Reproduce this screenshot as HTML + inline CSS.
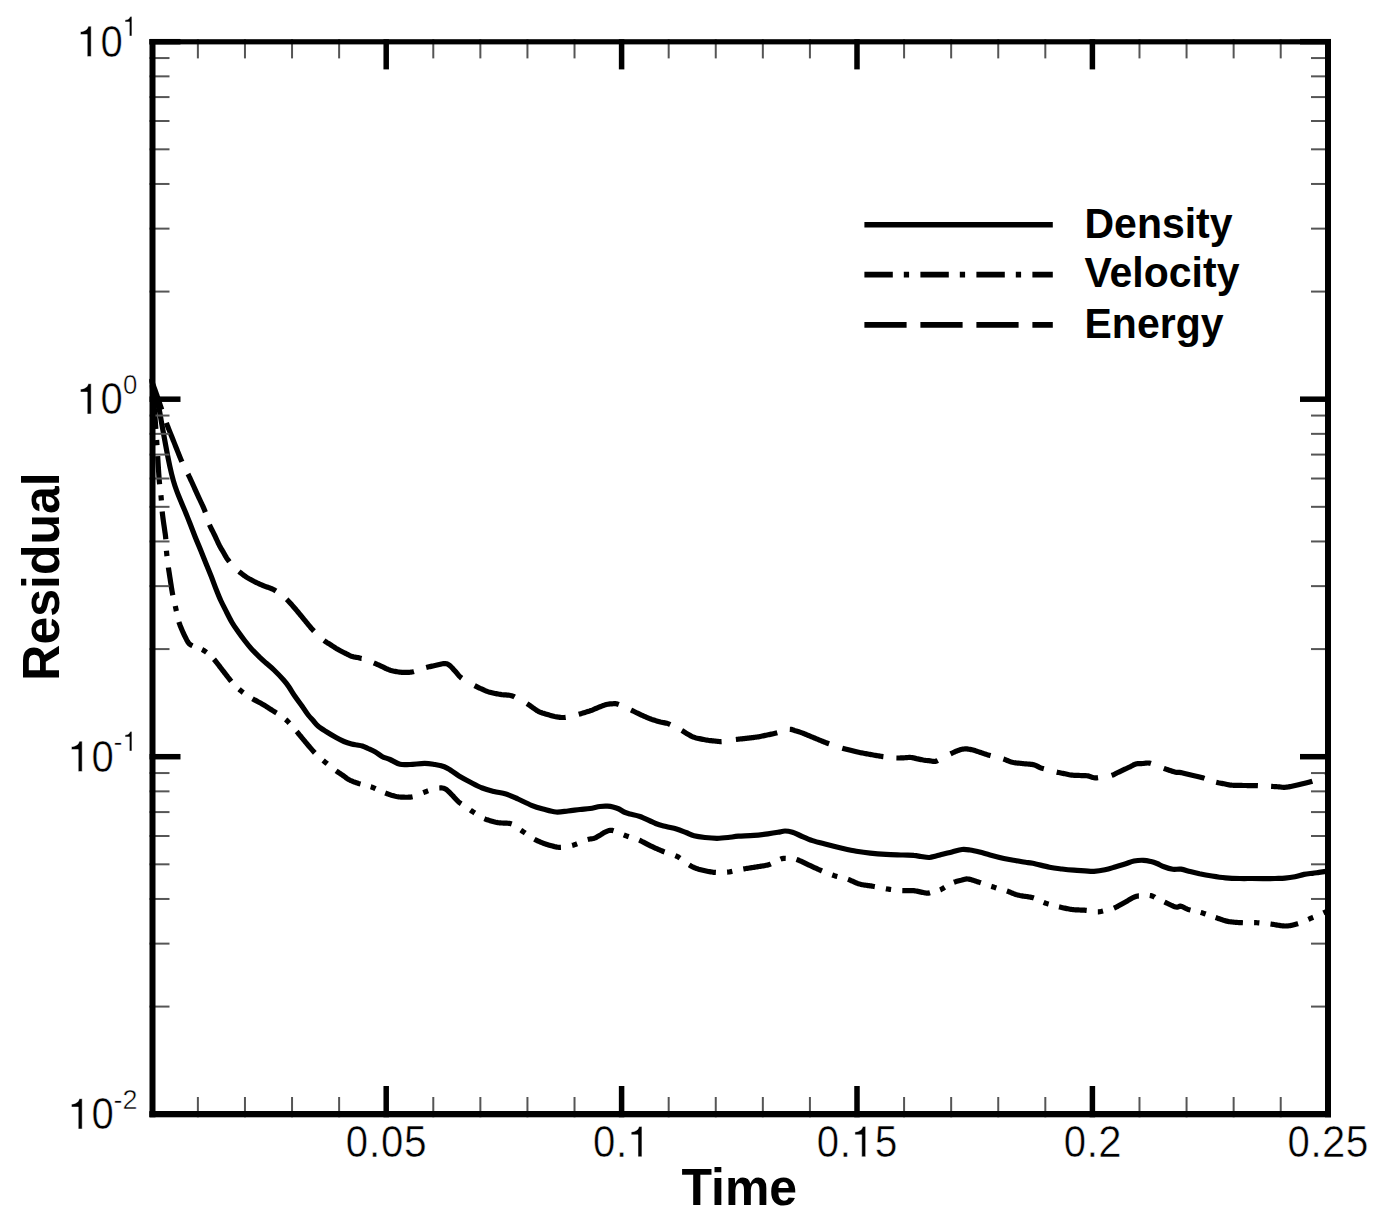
<!DOCTYPE html><html><head><meta charset="utf-8"><style>html,body{margin:0;padding:0;background:#fff;}svg{display:block;}text{font-family:"Liberation Sans",sans-serif;}</style></head><body>
<svg width="1377" height="1220" viewBox="0 0 1377 1220">
<rect x="0" y="0" width="1377" height="1220" fill="#fff"/>
<defs><clipPath id="c"><rect x="149.5" y="39.2" width="1181.5" height="1078.1"/></clipPath></defs>
<g clip-path="url(#c)" fill="none" stroke="#000" stroke-width="5.2" stroke-linejoin="round">
<path d="M150.8,378.5 C151.3,380.4 153.0,386.2 154.0,390.0 C155.0,393.8 156.1,397.5 157.0,401.0 C157.9,404.5 158.7,407.3 159.5,411.0 C160.3,414.7 160.7,418.0 161.6,423.0 C162.5,428.0 163.8,435.0 164.9,441.0 C166.0,447.0 167.2,453.5 168.3,459.0 C169.4,464.5 170.5,469.5 171.6,474.0 C172.7,478.5 173.8,482.4 175.0,486.0 C176.2,489.6 177.3,492.5 178.5,495.5 C179.7,498.5 180.8,501.0 182.0,504.0 C183.2,507.0 184.7,510.2 186.0,513.5 C187.3,516.8 188.5,519.7 190.0,523.5 C191.5,527.3 193.2,531.9 195.0,536.5 C196.8,541.1 199.1,546.2 201.0,551.0 C202.9,555.8 204.9,560.8 206.6,565.0 C208.3,569.2 209.5,572.0 211.1,576.0 C212.7,580.0 214.3,584.8 216.0,589.0 C217.7,593.2 219.2,597.2 221.0,601.0 C222.8,604.8 224.7,608.4 226.5,612.0 C228.3,615.6 230.1,619.2 232.0,622.5 C233.9,625.8 235.8,628.4 238.0,631.5 C240.2,634.6 242.7,638.0 245.0,641.0 C247.3,644.0 249.5,646.8 252.0,649.5 C254.5,652.2 257.5,655.1 259.8,657.4 C262.1,659.6 263.6,660.9 266.0,663.0 C268.4,665.1 271.1,667.2 274.0,670.0 C276.9,672.8 281.1,677.2 283.6,680.0 C286.1,682.8 287.1,684.2 289.0,687.0 C290.9,689.8 292.9,693.3 295.1,696.5 C297.3,699.7 299.8,702.9 302.0,706.0 C304.2,709.1 306.3,712.6 308.2,715.0 C310.1,717.4 311.5,718.7 313.1,720.5 C314.7,722.3 315.9,724.2 318.0,726.0 C320.1,727.8 323.0,729.6 326.0,731.5 C329.0,733.4 333.1,735.8 336.1,737.5 C339.1,739.2 341.4,740.4 344.0,741.5 C346.6,742.6 349.3,743.4 351.5,744.0 C353.7,744.6 355.2,744.7 357.0,745.0 C358.8,745.3 360.5,745.4 362.3,746.0 C364.1,746.6 365.8,747.5 368.0,748.5 C370.2,749.5 373.1,750.7 375.4,752.0 C377.7,753.3 379.6,755.2 382.0,756.5 C384.4,757.8 387.0,758.2 390.0,759.5 C393.0,760.8 396.7,763.5 400.0,764.3 C403.3,765.1 405.9,764.6 410.0,764.5 C414.1,764.4 420.4,763.4 424.6,763.4 C428.8,763.4 431.7,764.0 435.0,764.5 C438.3,765.0 441.6,765.7 444.3,766.7 C447.0,767.7 448.6,769.0 451.0,770.5 C453.4,772.0 455.8,774.1 459.0,776.0 C462.2,777.9 466.1,780.0 470.0,782.0 C473.9,784.0 478.3,786.4 482.3,788.0 C486.3,789.6 490.1,790.5 494.0,791.5 C497.9,792.5 502.0,792.8 506.0,794.0 C510.0,795.2 513.8,797.1 518.0,799.0 C522.2,800.9 527.3,803.6 531.5,805.3 C535.7,807.0 538.9,807.9 543.0,809.0 C547.1,810.1 551.8,811.7 556.0,812.0 C560.2,812.3 564.0,811.4 568.0,811.0 C572.0,810.6 576.3,809.9 580.0,809.5 C583.7,809.1 586.7,809.0 590.0,808.5 C593.3,808.0 597.1,806.9 600.0,806.5 C602.9,806.1 605.3,806.1 607.5,806.2 C609.7,806.3 611.1,806.5 613.0,807.0 C614.9,807.5 617.2,808.2 619.0,809.0 C620.8,809.8 622.2,811.2 624.0,812.0 C625.8,812.8 627.3,813.2 630.0,814.0 C632.7,814.8 635.7,814.9 640.0,816.5 C644.3,818.1 651.3,821.8 655.6,823.5 C659.9,825.2 662.5,825.6 666.0,826.5 C669.5,827.4 673.2,828.0 676.5,829.0 C679.8,830.0 683.1,831.4 686.0,832.5 C688.9,833.6 690.8,835.0 694.0,835.8 C697.2,836.6 701.2,837.1 705.0,837.5 C708.8,837.9 713.2,838.3 717.0,838.3 C720.8,838.3 724.4,837.9 728.0,837.5 C731.6,837.1 734.1,836.6 738.4,836.2 C742.7,835.9 749.0,835.8 753.9,835.4 C758.8,835.0 763.9,834.3 767.9,833.8 C771.9,833.3 775.1,832.8 778.0,832.3 C780.9,831.8 782.6,831.0 785.0,831.0 C787.4,831.0 790.0,831.5 792.5,832.2 C795.0,833.0 796.7,834.1 800.0,835.5 C803.3,836.9 808.0,839.1 812.5,840.6 C817.0,842.1 822.1,843.2 827.0,844.5 C831.9,845.8 837.1,847.1 842.0,848.2 C846.9,849.3 851.7,850.4 856.4,851.2 C861.1,852.0 865.3,852.6 870.2,853.1 C875.1,853.6 880.5,854.0 886.0,854.3 C891.5,854.6 898.4,854.8 903.0,855.0 C907.6,855.2 910.8,855.1 913.8,855.4 C916.8,855.6 918.4,856.1 921.0,856.5 C923.6,856.9 926.8,857.6 929.3,857.5 C931.8,857.4 933.8,856.5 936.0,856.0 C938.2,855.5 939.8,855.0 942.5,854.3 C945.2,853.6 948.8,852.8 952.0,852.0 C955.2,851.2 959.0,849.8 962.0,849.5 C965.0,849.2 967.1,849.6 970.0,850.0 C972.9,850.4 976.2,851.2 979.5,852.0 C982.8,852.8 985.9,853.9 990.0,855.0 C994.1,856.1 999.5,857.5 1003.9,858.5 C1008.3,859.5 1012.8,860.1 1016.4,860.7 C1020.0,861.3 1022.9,861.9 1025.6,862.3 C1028.3,862.7 1028.8,862.5 1032.8,863.3 C1036.8,864.1 1044.6,866.2 1049.5,867.2 C1054.4,868.2 1057.9,868.5 1062.0,869.0 C1066.1,869.5 1070.2,869.9 1074.0,870.2 C1077.8,870.5 1081.7,870.6 1085.0,870.8 C1088.3,871.0 1090.7,871.5 1094.0,871.3 C1097.3,871.1 1101.5,870.5 1105.0,869.8 C1108.5,869.1 1111.7,868.0 1115.0,867.0 C1118.3,866.0 1121.8,865.0 1125.0,864.0 C1128.2,863.0 1130.9,861.6 1134.0,861.0 C1137.1,860.4 1140.7,860.2 1143.5,860.3 C1146.3,860.4 1148.8,861.0 1151.0,861.5 C1153.2,862.0 1154.8,862.6 1157.0,863.5 C1159.2,864.4 1161.4,865.8 1164.0,866.8 C1166.6,867.8 1170.0,868.9 1172.8,869.3 C1175.6,869.7 1178.1,868.8 1181.0,869.2 C1183.9,869.6 1186.9,870.7 1190.0,871.5 C1193.1,872.3 1195.8,873.0 1199.5,873.8 C1203.2,874.5 1207.7,875.3 1212.0,876.0 C1216.3,876.7 1220.7,877.4 1225.4,877.8 C1230.1,878.2 1235.7,878.4 1240.0,878.5 C1244.3,878.6 1247.7,878.5 1251.5,878.5 C1255.3,878.5 1259.1,878.6 1263.0,878.6 C1266.9,878.6 1271.3,878.6 1275.0,878.5 C1278.7,878.4 1281.7,878.5 1285.0,878.2 C1288.3,877.9 1291.8,877.4 1295.0,876.8 C1298.2,876.2 1301.1,875.0 1304.0,874.4 C1306.9,873.8 1310.0,873.6 1312.5,873.3 C1315.0,873.0 1316.8,872.7 1319.0,872.4 C1321.2,872.1 1323.8,871.7 1326.0,871.4 C1328.2,871.1 1331.0,870.7 1332.0,870.6"/>
<path d="M150.80,378.50 L151.01,379.07 L151.27,379.79 L151.58,380.64 L151.93,381.59 L152.31,382.63 L152.71,383.72 L153.12,384.84 L153.53,385.96 L153.94,387.07 L154.32,388.12 L154.68,389.11 L155.00,390.00 L155.39,391.08 L155.76,392.11 L156.11,393.09 L156.44,394.04 L156.77,394.96 L157.08,395.85 L157.39,396.74 L157.70,397.62 L158.00,398.50 L158.38,399.62 L158.74,400.69 L159.08,401.73 L159.42,402.77 L159.76,403.81 L160.12,404.88 L160.50,406.00 L160.81,406.90 L161.14,407.83 L161.47,408.77 L161.75,409.56 M166.30,422.80 L166.57,423.52 L166.87,424.28 L167.18,425.09 L167.51,425.94 L167.86,426.82 L168.22,427.74 L168.60,428.69 L168.98,429.65 L169.38,430.64 L169.78,431.65 L170.18,432.66 L170.59,433.69 L171.00,434.71 L171.41,435.74 L171.82,436.76 L172.23,437.77 L172.63,438.76 L173.02,439.74 L173.40,440.70 L173.78,441.66 L174.17,442.64 L174.57,443.65 L174.97,444.66 L175.38,445.70 L175.79,446.73 L176.20,447.77 L176.61,448.81 L177.02,449.83 L177.42,450.85 L177.82,451.85 L178.21,452.83 L178.59,453.78 L178.96,454.70 L179.32,455.59 L179.66,456.44 L179.99,457.24 L180.31,458.00 L180.60,458.70 L181.22,460.15 L181.75,461.33 L181.95,461.77 M188.00,474.00 L188.44,474.91 L188.87,475.82 L189.31,476.75 L189.76,477.69 L190.20,478.64 L190.65,479.59 L191.10,480.56 L191.55,481.52 L192.00,482.50 L192.45,483.49 L192.90,484.49 L193.36,485.50 L193.82,486.51 L194.27,487.54 L194.73,488.56 L195.19,489.58 L195.64,490.59 L196.10,491.60 L196.56,492.60 L197.01,493.59 L197.47,494.59 L197.93,495.57 L198.38,496.56 L198.84,497.55 L199.30,498.53 L199.75,499.52 L200.20,500.50 L200.66,501.49 L201.12,502.48 L201.59,503.48 L202.05,504.48 L202.51,505.47 L202.96,506.45 L203.39,507.42 L203.81,508.37 L204.20,509.30 L204.61,510.31 L204.99,511.30 L205.34,512.24 M209.50,524.80 L209.86,525.64 L210.26,526.51 L210.69,527.41 L211.14,528.33 L211.61,529.27 L212.10,530.23 L212.59,531.19 L213.08,532.15 L213.57,533.11 L214.04,534.06 L214.50,535.00 L214.95,535.94 L215.39,536.89 L215.84,537.86 L216.29,538.83 L216.73,539.80 L217.17,540.76 L217.61,541.70 L218.04,542.63 L218.47,543.52 L218.89,544.38 L219.30,545.20 L219.86,546.26 L220.40,547.24 L220.93,548.18 L221.45,549.07 L221.97,549.93 L222.48,550.79 L222.99,551.64 L223.50,552.50 L224.07,553.49 L224.61,554.46 L225.15,555.41 L225.69,556.35 L226.25,557.30 L226.85,558.24 L227.50,559.20 L228.11,560.05 L228.76,560.92 L229.37,561.72 M239.00,571.50 L239.82,572.18 L240.66,572.86 L241.52,573.54 L242.39,574.21 L243.27,574.88 L244.17,575.54 L245.08,576.18 L246.00,576.80 L246.82,577.34 L247.65,577.86 L248.49,578.37 L249.33,578.87 L250.19,579.36 L251.07,579.85 L251.96,580.34 L252.87,580.82 L253.80,581.30 L254.66,581.73 L255.53,582.16 L256.42,582.59 L257.32,583.01 L258.24,583.43 L259.17,583.85 L260.11,584.26 L261.06,584.68 L262.03,585.09 L263.00,585.50 L263.91,585.87 L264.87,586.23 L265.85,586.59 L266.85,586.95 L267.86,587.30 L268.86,587.66 L269.85,588.02 L270.81,588.38 L271.72,588.75 L272.59,589.12 L273.40,589.50 L274.54,590.11 L275.56,590.73 L275.94,590.98 M286.60,599.30 L287.32,599.99 L288.03,600.71 L288.74,601.44 L289.44,602.20 L290.15,602.98 L290.85,603.77 L291.56,604.57 L292.28,605.38 L293.00,606.20 L293.66,606.95 L294.33,607.72 L295.00,608.50 L295.68,609.30 L296.36,610.10 L297.03,610.91 L297.71,611.71 L298.38,612.52 L299.04,613.31 L299.70,614.10 L300.42,614.97 L301.13,615.83 L301.84,616.70 L302.54,617.56 L303.24,618.42 L303.94,619.28 L304.63,620.13 L305.32,620.97 L306.00,621.80 L306.68,622.63 L307.35,623.46 L308.02,624.28 L308.69,625.10 L309.35,625.91 L310.01,626.71 L310.67,627.49 L311.33,628.26 L312.00,629.00 L312.75,629.81 L313.50,630.60 L314.00,631.11 M324.00,640.50 L324.90,641.16 L325.80,641.78 L326.71,642.37 L327.64,642.94 L328.58,643.51 L329.53,644.09 L330.50,644.70 L331.35,645.25 L332.19,645.81 L333.03,646.37 L333.89,646.94 L334.78,647.52 L335.70,648.11 L336.67,648.70 L337.70,649.30 L338.51,649.76 L339.39,650.24 L340.32,650.73 L341.27,651.24 L342.25,651.75 L343.22,652.25 L344.18,652.74 L345.10,653.20 L345.98,653.64 L346.78,654.04 L347.50,654.40 L348.78,655.04 L349.75,655.53 L350.59,655.92 L351.45,656.26 L352.50,656.60 L353.40,656.83 L354.35,657.01 L355.36,657.18 L356.40,657.33 L357.44,657.50 L358.48,657.68 L359.50,657.90 L360.50,658.15 L361.49,658.42 L361.50,658.42 M373.80,662.90 L374.74,663.30 L375.67,663.70 L376.61,664.12 L377.56,664.54 L378.52,664.97 L379.50,665.40 L380.49,665.85 L381.50,666.30 L382.41,666.72 L383.31,667.17 L384.23,667.63 L385.15,668.10 L386.09,668.56 L387.06,669.01 L388.07,669.44 L389.11,669.84 L390.20,670.20 L391.14,670.47 L392.12,670.72 L393.14,670.97 L394.19,671.20 L395.26,671.41 L396.33,671.61 L397.41,671.79 L398.49,671.95 L399.55,672.09 L400.59,672.21 L401.60,672.30 L402.70,672.38 L403.80,672.43 L404.90,672.45 L406.00,672.45 L407.08,672.42 L408.13,672.38 L409.16,672.31 L410.15,672.23 L411.10,672.12 L412.00,672.00 L413.18,671.78 L413.95,671.56 M426.20,667.50 L427.10,667.27 L428.04,667.04 L429.00,666.81 L429.97,666.59 L430.97,666.37 L431.97,666.15 L432.98,665.93 L433.99,665.72 L435.00,665.50 L436.04,665.27 L437.12,665.01 L438.23,664.73 L439.34,664.46 L440.44,664.21 L441.51,663.98 L442.52,663.79 L443.46,663.66 L444.30,663.60 L445.55,663.61 L446.53,663.74 L447.39,664.02 L448.23,664.46 L449.20,665.10 L449.88,665.62 L450.59,666.25 L451.31,666.97 L452.05,667.74 L452.79,668.56 L453.54,669.39 L454.27,670.21 L455.00,671.00 L455.71,671.79 L456.41,672.62 L457.10,673.46 L457.79,674.31 L458.49,675.14 L459.20,675.94 L459.94,676.70 L460.70,677.40 L461.61,678.12 L461.77,678.23 M474.60,685.60 L475.65,686.15 L476.64,686.65 L477.59,687.12 L478.54,687.58 L479.50,688.04 L480.50,688.50 L481.53,688.98 L482.57,689.47 L483.62,689.96 L484.70,690.44 L485.79,690.89 L486.90,691.30 L487.87,691.62 L488.86,691.92 L489.87,692.20 L490.89,692.47 L491.91,692.72 L492.95,692.96 L494.00,693.20 L495.04,693.43 L496.07,693.65 L497.10,693.85 L498.16,694.05 L499.25,694.24 L500.39,694.42 L501.60,694.60 L502.61,694.72 L503.69,694.81 L504.82,694.89 L505.97,694.96 L507.14,695.04 L508.29,695.14 L509.42,695.28 L510.49,695.46 L511.50,695.70 L512.55,696.04 L513.53,696.45 L514.47,696.91 L514.61,696.99 M527.00,703.60 L527.96,704.20 L528.85,704.80 L529.70,705.40 L530.51,706.01 L531.32,706.61 L532.14,707.21 L533.00,707.80 L533.87,708.39 L534.72,709.00 L535.58,709.60 L536.45,710.19 L537.35,710.76 L538.30,711.30 L539.30,711.80 L540.23,712.20 L541.22,712.58 L542.24,712.93 L543.28,713.26 L544.34,713.58 L545.41,713.89 L546.46,714.20 L547.50,714.50 L548.52,714.81 L549.55,715.12 L550.58,715.42 L551.60,715.72 L552.62,716.00 L553.65,716.26 L554.67,716.50 L555.70,716.70 L556.73,716.88 L557.78,717.05 L558.82,717.19 L559.87,717.32 L560.91,717.42 L561.93,717.48 L562.93,717.51 L563.90,717.50 L564.97,717.43 L565.70,717.34 M578.70,714.30 L579.83,713.99 L580.89,713.68 L581.91,713.37 L582.91,713.06 L583.94,712.73 L585.00,712.40 L585.94,712.11 L586.89,711.82 L587.86,711.52 L588.83,711.21 L589.81,710.90 L590.80,710.56 L591.80,710.20 L592.81,709.81 L593.82,709.39 L594.85,708.95 L595.88,708.51 L596.92,708.06 L597.96,707.62 L599.00,707.20 L600.06,706.78 L601.15,706.35 L602.25,705.92 L603.34,705.50 L604.41,705.12 L605.44,704.78 L606.40,704.50 L607.64,704.22 L608.80,704.04 L609.89,703.93 L610.95,703.86 L612.00,703.80 L613.01,703.72 L613.95,703.65 L614.88,703.62 L615.88,703.69 L617.00,703.90 L617.90,704.16 L618.81,704.50 M631.00,710.00 L631.85,710.40 L632.73,710.83 L633.64,711.28 L634.59,711.75 L635.55,712.23 L636.53,712.71 L637.52,713.19 L638.52,713.67 L639.51,714.14 L640.50,714.60 L641.41,715.01 L642.33,715.44 L643.27,715.86 L644.22,716.29 L645.17,716.71 L646.12,717.13 L647.06,717.53 L648.00,717.93 L648.92,718.31 L649.82,718.66 L650.70,719.00 L651.74,719.38 L652.74,719.72 L653.72,720.04 L654.69,720.34 L655.64,720.63 L656.59,720.90 L657.54,721.17 L658.51,721.43 L659.50,721.70 L660.52,721.96 L661.57,722.20 L662.64,722.43 L663.72,722.65 L664.79,722.87 L665.83,723.10 L666.84,723.35 L667.80,723.61 L668.70,723.90 L669.75,724.31 L670.23,724.54 M681.80,730.50 L682.81,731.08 L683.78,731.67 L684.71,732.27 L685.63,732.86 L686.56,733.44 L687.50,734.00 L688.44,734.54 L689.37,735.08 L690.31,735.60 L691.26,736.10 L692.25,736.57 L693.30,737.00 L694.25,737.33 L695.25,737.64 L696.27,737.92 L697.32,738.18 L698.38,738.43 L699.44,738.66 L700.50,738.90 L701.56,739.13 L702.65,739.36 L703.75,739.57 L704.84,739.78 L705.92,739.97 L706.98,740.14 L708.00,740.30 L709.14,740.46 L710.24,740.59 L711.31,740.70 L712.36,740.80 L713.42,740.90 L714.50,741.00 L715.58,741.13 L716.66,741.27 L717.74,741.41 L718.84,741.53 L719.95,741.60 L721.10,741.60 L721.61,741.57 M735.90,739.50 L736.83,739.39 L737.81,739.27 L738.84,739.16 L739.90,739.04 L740.99,738.92 L742.10,738.80 L743.21,738.67 L744.32,738.55 L745.42,738.42 L746.50,738.30 L747.57,738.18 L748.66,738.05 L749.76,737.93 L750.85,737.81 L751.95,737.69 L753.04,737.56 L754.11,737.43 L755.17,737.29 L756.20,737.15 L757.20,737.00 L758.27,736.82 L759.31,736.64 L760.33,736.44 L761.32,736.24 L762.29,736.03 L763.26,735.83 L764.23,735.62 L765.21,735.41 L766.20,735.20 L767.21,734.99 L768.23,734.79 L769.26,734.58 L770.29,734.37 L771.32,734.16 L772.33,733.94 L773.31,733.73 L774.27,733.52 L775.20,733.30 L776.33,733.02 L777.31,732.76 M789.80,729.30 L791.04,729.37 L792.19,729.63 L793.29,730.01 L794.38,730.42 L795.50,730.80 L796.38,731.04 L797.15,731.24 L797.93,731.46 L798.81,731.72 L799.90,732.09 L801.30,732.60 L802.02,732.88 L802.80,733.18 L803.64,733.52 L804.54,733.88 L805.48,734.27 L806.45,734.67 L807.45,735.08 L808.47,735.50 L809.50,735.93 L810.53,736.36 L811.55,736.78 L812.56,737.20 L813.55,737.61 L814.50,738.00 L815.45,738.39 L816.42,738.79 L817.40,739.19 L818.39,739.60 L819.38,740.02 L820.37,740.43 L821.36,740.83 L822.32,741.23 L823.27,741.62 L824.19,741.99 L825.08,742.35 L825.93,742.69 L826.74,743.01 L827.50,743.30 L828.86,743.80 L829.09,743.88 M842.30,748.20 L843.28,748.48 L844.29,748.75 L845.31,749.01 L846.34,749.27 L847.39,749.53 L848.43,749.79 L849.47,750.04 L850.50,750.30 L851.50,750.55 L852.48,750.80 L853.44,751.05 L854.41,751.30 L855.40,751.55 L856.43,751.80 L857.53,752.05 L858.70,752.30 L859.61,752.49 L860.56,752.68 L861.55,752.87 L862.57,753.06 L863.61,753.25 L864.67,753.45 L865.74,753.64 L866.81,753.83 L867.89,754.02 L868.95,754.21 L870.00,754.40 L871.06,754.59 L872.15,754.79 L873.26,754.99 L874.37,755.19 L875.49,755.38 L876.59,755.58 L877.68,755.77 L878.73,755.94 L879.74,756.11 L880.70,756.26 L881.60,756.40 L882.88,756.58 L883.41,756.64 M896.40,758.00 L897.46,758.02 L898.52,758.02 L899.58,757.99 L900.64,757.95 L901.69,757.89 L902.75,757.84 L903.80,757.80 L904.85,757.75 L905.91,757.67 L906.97,757.59 L908.03,757.51 L909.07,757.46 L910.09,757.45 L911.10,757.50 L912.24,757.64 L913.35,757.84 L914.44,758.10 L915.53,758.38 L916.61,758.65 L917.70,758.90 L918.81,759.13 L919.93,759.37 L921.06,759.60 L922.17,759.82 L923.25,760.03 L924.30,760.20 L925.50,760.37 L926.64,760.50 L927.76,760.60 L928.87,760.70 L930.00,760.80 L931.11,760.97 L932.20,761.21 L933.30,761.41 L934.46,761.47 L935.70,761.30 L936.53,761.04 L937.41,760.67 L937.83,760.46 M950.50,753.90 L951.44,753.45 L952.39,752.99 L953.33,752.52 L954.28,752.07 L955.22,751.63 L956.16,751.22 L957.09,750.84 L958.00,750.50 L959.03,750.16 L960.04,749.84 L961.03,749.56 L962.03,749.32 L963.01,749.12 L964.00,748.98 L965.00,748.90 L966.01,748.89 L967.03,748.95 L968.05,749.06 L969.07,749.22 L970.07,749.40 L971.05,749.60 L972.00,749.80 L973.01,750.03 L973.93,750.28 L974.82,750.55 L975.75,750.86 L976.79,751.20 L978.00,751.60 L978.84,751.87 L979.77,752.18 L980.76,752.52 L981.79,752.87 L982.85,753.23 L983.92,753.59 L984.98,753.95 L986.00,754.29 L986.99,754.61 L987.90,754.90 L989.10,755.26 L990.23,755.59 L990.56,755.68 M1003.40,759.00 L1004.35,759.32 L1005.31,759.68 L1006.29,760.08 L1007.29,760.49 L1008.29,760.90 L1009.32,761.30 L1010.36,761.68 L1011.42,762.01 L1012.50,762.30 L1013.49,762.51 L1014.51,762.69 L1015.54,762.84 L1016.58,762.97 L1017.64,763.08 L1018.71,763.18 L1019.78,763.28 L1020.86,763.38 L1021.93,763.48 L1023.00,763.60 L1024.08,763.72 L1025.20,763.81 L1026.33,763.90 L1027.47,763.99 L1028.60,764.08 L1029.72,764.18 L1030.81,764.30 L1031.86,764.43 L1032.86,764.60 L1033.80,764.80 L1035.02,765.16 L1036.12,765.60 L1037.14,766.09 L1038.11,766.61 L1039.07,767.11 L1040.06,767.59 L1041.10,768.00 L1042.06,768.31 L1043.04,768.58 L1043.85,768.79 M1056.70,772.10 L1057.76,772.35 L1058.81,772.57 L1059.85,772.78 L1060.88,772.99 L1061.91,773.19 L1062.95,773.39 L1064.00,773.60 L1065.05,773.82 L1066.10,774.06 L1067.15,774.30 L1068.21,774.53 L1069.28,774.75 L1070.37,774.94 L1071.50,775.10 L1072.52,775.20 L1073.57,775.28 L1074.64,775.33 L1075.72,775.37 L1076.81,775.40 L1077.89,775.43 L1078.96,775.46 L1080.00,775.50 L1081.17,775.54 L1082.32,775.57 L1083.46,775.59 L1084.59,775.62 L1085.70,775.67 L1086.81,775.76 L1087.90,775.90 L1088.97,776.13 L1090.00,776.45 L1091.02,776.82 L1092.03,777.19 L1093.06,777.52 L1094.11,777.77 L1095.20,777.90 L1096.19,777.89 L1097.21,777.80 L1098.06,777.68 M1111.60,775.40 L1112.74,775.01 L1113.81,774.56 L1114.82,774.05 L1115.81,773.52 L1116.79,773.00 L1117.80,772.50 L1118.82,772.03 L1119.84,771.56 L1120.86,771.10 L1121.87,770.64 L1122.88,770.17 L1123.90,769.70 L1124.92,769.22 L1125.93,768.74 L1126.94,768.26 L1127.96,767.77 L1128.98,767.28 L1130.00,766.80 L1131.02,766.29 L1132.05,765.74 L1133.08,765.19 L1134.11,764.68 L1135.15,764.24 L1136.20,763.90 L1137.26,763.69 L1138.34,763.58 L1139.42,763.54 L1140.51,763.54 L1141.61,763.54 L1142.70,763.50 L1143.79,763.40 L1144.87,763.26 L1145.96,763.11 L1147.05,763.01 L1148.16,762.99 L1149.30,763.10 L1150.30,763.31 L1150.91,763.50 M1163.80,768.40 L1164.90,768.79 L1165.95,769.16 L1166.97,769.51 L1167.98,769.84 L1168.99,770.17 L1170.00,770.50 L1171.04,770.83 L1172.09,771.18 L1173.13,771.51 L1174.16,771.82 L1175.15,772.09 L1176.10,772.30 L1177.29,772.43 L1178.31,772.41 L1179.44,772.41 L1181.00,772.60 L1181.79,772.75 L1182.67,772.95 L1183.61,773.17 L1184.61,773.41 L1185.65,773.67 L1186.72,773.94 L1187.80,774.21 L1188.89,774.49 L1189.96,774.75 L1191.00,775.00 L1192.04,775.24 L1193.12,775.48 L1194.21,775.72 L1195.32,775.96 L1196.42,776.19 L1197.51,776.43 L1198.57,776.67 L1199.60,776.91 L1200.58,777.16 L1201.50,777.40 L1202.71,777.75 L1203.82,778.11 L1204.47,778.34 M1216.20,782.30 L1217.29,782.56 L1218.40,782.80 L1219.51,783.01 L1220.64,783.21 L1221.76,783.40 L1222.88,783.60 L1224.00,783.80 L1225.08,784.01 L1226.10,784.24 L1227.11,784.46 L1228.15,784.68 L1229.25,784.88 L1230.45,785.06 L1231.80,785.20 L1232.66,785.26 L1233.58,785.32 L1234.54,785.36 L1235.53,785.39 L1236.56,785.41 L1237.61,785.43 L1238.68,785.44 L1239.76,785.46 L1240.83,785.46 L1241.90,785.47 L1242.96,785.49 L1244.00,785.50 L1245.04,785.51 L1246.11,785.52 L1247.20,785.53 L1248.30,785.54 L1249.41,785.54 L1250.50,785.54 L1251.58,785.55 L1252.63,785.55 L1253.65,785.56 L1254.62,785.57 L1255.54,785.58 L1256.40,785.60 L1257.72,785.64 L1257.92,785.65 M1271.10,786.40 L1272.15,786.46 L1273.21,786.51 L1274.26,786.57 L1275.32,786.63 L1276.38,786.69 L1277.44,786.74 L1278.50,786.80 L1279.51,786.88 L1280.46,787.00 L1281.40,787.12 L1282.36,787.22 L1283.41,787.29 L1284.57,787.29 L1285.90,787.20 L1286.77,787.10 L1287.70,786.97 L1288.68,786.82 L1289.71,786.64 L1290.77,786.44 L1291.86,786.23 L1292.97,786.01 L1294.09,785.77 L1295.21,785.53 L1296.33,785.28 L1297.43,785.04 L1298.50,784.80 L1299.49,784.57 L1300.52,784.33 L1301.57,784.08 L1302.62,783.82 L1303.69,783.56 L1304.74,783.29 L1305.79,783.02 L1306.81,782.75 L1307.80,782.49 L1308.76,782.23 L1309.66,781.97 L1310.51,781.73 L1311.30,781.50 L1312.36,781.17 M1325.49,776.33 L1326.06,776.12 L1327.20,775.71 L1328.37,775.30 L1329.49,774.90 L1330.51,774.53 L1331.37,774.23 L1332.00,774.00"/>
<path d="M151.85,384.90 L151.99,385.78 L152.18,386.97 L152.36,388.18 L152.54,389.40 L152.64,390.14 M153.75,401.08 L153.79,401.66 L153.87,402.67 L153.95,403.69 L154.03,404.72 L154.10,405.76 L154.18,406.80 L154.26,407.84 L154.34,408.89 L154.42,409.95 L154.50,411.00 L154.58,411.96 L154.65,412.92 L154.73,413.90 L154.80,414.89 L154.88,415.88 L154.96,416.88 L155.03,417.89 L155.11,418.90 L155.19,419.92 L155.26,420.94 L155.34,421.96 L155.41,422.98 L155.49,423.99 L155.56,425.01 L155.64,426.02 L155.71,427.03 L155.79,428.04 L155.86,429.00 M156.63,439.97 L156.65,440.30 L156.72,441.32 L156.79,442.33 L156.86,443.34 L156.93,444.33 L156.99,445.26 M157.68,456.24 L157.73,457.21 L157.79,458.17 L157.84,459.12 L157.90,460.07 L157.96,461.03 L158.01,462.00 L158.07,462.98 L158.14,463.98 L158.20,465.00 L158.26,465.99 L158.33,467.00 L158.40,468.04 L158.46,469.09 L158.53,470.16 L158.60,471.23 L158.67,472.31 L158.74,473.38 L158.81,474.43 L158.89,475.47 L158.96,476.48 L159.03,477.47 L159.10,478.42 L159.17,479.33 L159.23,480.19 L159.30,481.00 L159.42,482.32 L159.53,483.51 L159.60,484.17 M160.92,495.17 L160.97,495.62 L161.10,497.00 L161.17,497.81 L161.24,498.71 L161.31,499.68 L161.37,500.45 M162.20,511.50 L162.32,512.72 L162.45,513.88 L162.58,514.99 L162.71,516.06 L162.84,517.09 L162.97,518.10 L163.10,519.09 L163.24,520.06 L163.37,521.03 L163.50,522.00 L163.65,523.08 L163.80,524.14 L163.95,525.19 L164.10,526.21 L164.25,527.22 L164.40,528.20 L164.54,529.16 L164.67,530.10 L164.80,531.00 L164.95,532.05 L165.09,532.96 L165.22,533.80 L165.34,534.65 L165.46,535.58 L165.58,536.68 L165.70,538.00 L165.76,538.84 L165.79,539.26 M166.45,550.78 L166.50,551.50 L166.62,552.81 L166.74,554.00 L166.86,555.10 L166.98,556.05 M168.40,567.50 L168.52,568.37 L168.66,569.30 L168.80,570.29 L168.96,571.31 L169.12,572.38 L169.29,573.47 L169.46,574.57 L169.63,575.69 L169.80,576.79 L169.97,577.89 L170.14,578.96 L170.30,580.00 L170.46,581.03 L170.62,582.08 L170.78,583.13 L170.94,584.19 L171.11,585.24 L171.27,586.28 L171.43,587.31 L171.59,588.31 L171.75,589.29 L171.90,590.24 L172.05,591.14 L172.20,592.00 L172.41,593.20 L172.62,594.30 L172.78,595.15 M175.26,605.99 L175.50,607.00 L175.71,607.96 L175.93,608.95 L176.14,609.97 L176.35,611.00 L176.39,611.17 M178.90,622.00 L179.22,622.96 L179.57,623.94 L179.94,624.95 L180.34,625.97 L180.75,626.99 L181.16,628.01 L181.58,629.02 L182.00,630.00 L182.42,630.97 L182.85,631.95 L183.28,632.92 L183.72,633.88 L184.17,634.82 L184.62,635.74 L185.06,636.64 L185.50,637.50 L186.07,638.62 L186.61,639.72 L187.16,640.78 L187.72,641.78 L188.33,642.69 L189.00,643.50 L189.92,644.32 L190.94,644.99 L192.00,645.55 L192.47,645.77 M202.03,649.48 L202.50,649.70 L203.35,650.19 L204.24,650.74 L205.16,651.34 L206.09,652.01 L206.50,652.31 M214.00,659.30 L214.60,660.00 L215.22,660.74 L215.86,661.54 L216.52,662.37 L217.19,663.23 L217.88,664.12 L218.57,665.02 L219.26,665.93 L219.95,666.84 L220.64,667.74 L221.33,668.63 L222.00,669.50 L222.62,670.30 L223.26,671.13 L223.91,671.96 L224.56,672.81 L225.21,673.66 L225.86,674.51 L226.51,675.35 L227.14,676.17 L227.76,676.97 L228.36,677.74 L228.93,678.47 L229.48,679.16 L230.00,679.80 L230.87,680.86 L231.27,681.34 M239.07,689.26 L239.42,689.56 L240.20,690.20 L240.99,690.84 L241.79,691.46 L242.61,692.08 L243.23,692.54 M252.50,698.70 L253.30,699.16 L254.15,699.64 L255.05,700.13 L255.98,700.63 L256.94,701.14 L257.93,701.67 L258.93,702.21 L259.95,702.77 L260.97,703.33 L261.99,703.91 L263.00,704.50 L263.87,705.02 L264.78,705.58 L265.72,706.16 L266.67,706.75 L267.64,707.36 L268.61,707.98 L269.56,708.59 L270.50,709.19 L271.42,709.77 L272.29,710.33 L273.12,710.86 L273.89,711.35 L274.60,711.80 L275.91,712.61 L276.56,713.00 M285.60,719.43 L285.79,719.58 L286.60,720.30 L287.36,721.01 L288.08,721.73 L288.77,722.46 L289.39,723.13 M296.70,731.50 L297.28,732.19 L297.91,732.94 L298.56,733.73 L299.24,734.56 L299.95,735.41 L300.67,736.28 L301.40,737.17 L302.13,738.06 L302.87,738.94 L303.59,739.82 L304.31,740.67 L305.00,741.50 L305.69,742.32 L306.39,743.16 L307.10,744.00 L307.81,744.85 L308.53,745.70 L309.23,746.53 L309.93,747.35 L310.61,748.15 L311.27,748.92 L311.91,749.65 L312.52,750.35 L313.10,751.00 L314.01,752.00 L314.81,752.85 M323.14,760.45 L323.80,761.00 L324.64,761.69 L325.51,762.40 L326.40,763.12 L327.25,763.80 M336.10,770.80 L336.93,771.40 L337.79,771.99 L338.66,772.59 L339.54,773.18 L340.43,773.77 L341.31,774.36 L342.17,774.93 L343.00,775.50 L343.90,776.14 L344.76,776.79 L345.60,777.42 L346.44,778.05 L347.30,778.66 L348.22,779.24 L349.20,779.80 L350.13,780.27 L351.12,780.72 L352.15,781.16 L353.21,781.59 L354.28,781.99 L355.35,782.38 L356.39,782.75 L357.40,783.10 L358.52,783.46 L359.63,783.79 L360.51,784.03 M370.68,786.74 L371.13,786.87 L372.10,787.20 L373.20,787.62 L374.27,788.07 L375.33,788.54 L375.61,788.67 M385.20,793.00 L386.21,793.39 L387.24,793.78 L388.28,794.16 L389.33,794.52 L390.38,794.87 L391.44,795.20 L392.50,795.50 L393.53,795.78 L394.51,796.05 L395.49,796.29 L396.50,796.51 L397.56,796.71 L398.72,796.87 L400.00,797.00 L400.91,797.07 L401.92,797.13 L402.98,797.18 L404.10,797.22 L405.24,797.24 L406.39,797.25 L407.52,797.25 L408.62,797.22 L409.66,797.17 L410.63,797.10 L411.50,797.00 L412.58,796.79 M423.23,792.59 L423.61,792.45 L424.60,792.10 L425.62,791.73 L426.66,791.34 L427.72,790.94 L428.21,790.76 M439.30,788.00 L440.39,787.96 L441.44,787.96 L442.45,788.03 L443.45,788.20 L444.46,788.52 L445.50,789.00 L446.29,789.50 L447.09,790.12 L447.89,790.83 L448.70,791.61 L449.51,792.44 L450.33,793.30 L451.16,794.16 L452.00,795.00 L452.68,795.68 L453.38,796.41 L454.08,797.16 L454.79,797.93 L455.50,798.71 L456.21,799.47 L456.92,800.22 L457.62,800.93 L458.32,801.59 L459.00,802.20 L459.96,802.96 L460.90,803.63 L461.18,803.81 M470.40,810.08 L470.81,810.38 L471.70,811.00 L472.59,811.60 L473.49,812.19 L474.39,812.77 L474.80,813.03 M484.40,818.70 L485.30,819.08 L486.22,819.43 L487.18,819.76 L488.15,820.08 L489.13,820.38 L490.10,820.67 L491.06,820.94 L492.00,821.20 L493.01,821.48 L493.96,821.75 L494.89,821.99 L495.83,822.22 L496.84,822.43 L497.95,822.62 L499.20,822.80 L500.11,822.89 L501.11,822.96 L502.19,823.01 L503.33,823.04 L504.49,823.07 L505.65,823.11 L506.79,823.15 L507.89,823.22 L508.93,823.31 L509.87,823.43 L510.70,823.60 L511.71,823.94 M520.80,830.14 L521.23,830.42 L522.10,831.00 L522.95,831.57 L523.79,832.14 L524.62,832.70 L525.20,833.10 M534.40,839.20 L535.33,839.70 L536.25,840.18 L537.17,840.63 L538.10,841.06 L539.05,841.48 L540.01,841.89 L541.00,842.30 L541.99,842.70 L542.96,843.08 L543.95,843.45 L544.96,843.82 L546.03,844.18 L547.17,844.54 L548.40,844.90 L549.34,845.17 L550.36,845.46 L551.44,845.76 L552.56,846.07 L553.69,846.37 L554.83,846.65 L555.95,846.90 L557.03,847.12 L558.05,847.29 L559.00,847.40 L560.24,847.46 L560.95,847.43 M572.11,845.36 L572.76,845.19 L573.80,844.90 L574.84,844.57 L575.88,844.21 L576.92,843.82 L577.15,843.73 M587.70,839.50 L588.82,839.22 L589.94,839.03 L591.06,838.87 L592.17,838.71 L593.25,838.50 L594.30,838.20 L595.30,837.80 L596.27,837.34 L597.21,836.83 L598.13,836.29 L599.06,835.74 L600.00,835.20 L600.95,834.63 L601.90,834.03 L602.85,833.41 L603.80,832.81 L604.75,832.26 L605.70,831.80 L606.83,831.32 L607.94,830.89 L609.06,830.54 L610.20,830.33 L611.40,830.30 L612.44,830.44 L613.51,830.73 L613.57,830.75 M623.76,834.89 L624.28,835.10 L625.30,835.50 L626.28,835.87 L627.24,836.21 L628.19,836.53 L628.74,836.72 M639.20,840.10 L639.97,840.45 L640.78,840.83 L641.62,841.25 L642.49,841.70 L643.38,842.17 L644.29,842.66 L645.23,843.15 L646.17,843.66 L647.12,844.16 L648.08,844.65 L649.04,845.13 L650.00,845.60 L650.90,846.03 L651.84,846.46 L652.80,846.91 L653.78,847.36 L654.77,847.81 L655.77,848.26 L656.76,848.70 L657.73,849.13 L658.68,849.55 L659.60,849.95 L660.48,850.32 L661.32,850.68 L662.10,851.00 L663.40,851.52 L664.55,851.94 M675.35,855.62 L675.91,855.85 L676.90,856.30 L677.84,856.80 L678.73,857.33 L679.60,857.89 L679.99,858.16 M689.20,864.90 L690.10,865.45 L690.98,865.97 L691.87,866.46 L692.77,866.92 L693.70,867.37 L694.67,867.79 L695.70,868.20 L696.64,868.54 L697.61,868.86 L698.61,869.16 L699.64,869.44 L700.70,869.72 L701.78,869.98 L702.88,870.24 L704.00,870.50 L705.04,870.73 L706.13,870.97 L707.25,871.20 L708.40,871.43 L709.54,871.64 L710.67,871.84 L711.77,872.02 L712.82,872.18 L713.80,872.30 L714.96,872.41 L715.90,872.46 M727.10,872.15 L727.45,872.12 L728.50,872.00 L729.52,871.84 L730.51,871.65 L731.49,871.43 L732.32,871.24 M743.30,869.00 L744.19,868.85 L745.14,868.70 L746.15,868.54 L747.20,868.37 L748.28,868.21 L749.39,868.04 L750.52,867.87 L751.64,867.69 L752.77,867.52 L753.87,867.34 L754.95,867.17 L756.00,867.00 L757.03,866.83 L758.09,866.67 L759.14,866.51 L760.20,866.35 L761.26,866.19 L762.30,866.02 L763.32,865.86 L764.32,865.69 L765.28,865.50 L766.20,865.31 L767.08,865.11 L767.90,864.90 L769.16,864.50 L770.27,864.06 L770.76,863.84 M780.54,859.16 L780.56,859.15 L781.49,858.84 L782.40,858.60 L783.43,858.43 L784.45,858.35 L785.47,858.34 L785.74,858.35 M796.50,859.40 L797.30,859.68 L798.15,860.01 L799.04,860.38 L799.97,860.79 L800.94,861.23 L801.92,861.70 L802.93,862.18 L803.95,862.67 L804.97,863.17 L805.99,863.66 L807.00,864.14 L808.00,864.60 L808.93,865.03 L809.89,865.47 L810.88,865.92 L811.88,866.39 L812.89,866.85 L813.89,867.32 L814.89,867.78 L815.87,868.23 L816.82,868.67 L817.74,869.09 L818.61,869.49 L819.44,869.86 L820.20,870.20 L821.45,870.75 L821.99,870.98 M832.27,874.95 L833.19,875.27 L834.20,875.60 L835.19,875.91 L836.17,876.20 L837.13,876.47 L837.33,876.52 M848.00,879.30 L848.81,879.60 L849.66,879.96 L850.56,880.35 L851.50,880.78 L852.48,881.22 L853.48,881.68 L854.49,882.14 L855.53,882.59 L856.57,883.02 L857.62,883.42 L858.66,883.78 L859.70,884.10 L860.67,884.35 L861.69,884.58 L862.73,884.78 L863.79,884.97 L864.86,885.14 L865.94,885.29 L867.01,885.43 L868.06,885.57 L869.08,885.69 L870.06,885.82 L871.00,885.94 L871.88,886.07 L872.70,886.20 L874.04,886.44 L874.83,886.58 M885.88,888.72 L886.43,888.82 L887.50,889.00 L888.57,889.17 L889.65,889.32 L890.72,889.47 L891.11,889.52 M902.30,890.70 L903.18,890.72 L904.11,890.71 L905.09,890.69 L906.11,890.65 L907.15,890.61 L908.23,890.58 L909.32,890.55 L910.43,890.55 L911.55,890.56 L912.68,890.61 L913.80,890.70 L914.77,890.82 L915.79,890.98 L916.85,891.17 L917.93,891.39 L919.02,891.63 L920.11,891.88 L921.20,892.12 L922.26,892.36 L923.30,892.58 L924.29,892.77 L925.23,892.93 L926.10,893.04 L926.90,893.10 L928.37,893.07 L929.57,892.87 L930.03,892.73 M940.09,889.88 L940.30,889.80 L941.26,889.34 L942.22,888.81 L943.17,888.22 L944.12,887.60 L944.67,887.24 M953.90,882.30 L954.91,881.93 L955.92,881.60 L956.94,881.30 L957.96,881.03 L958.98,880.78 L959.99,880.54 L961.00,880.30 L961.97,880.04 L962.88,879.75 L963.79,879.47 L964.71,879.22 L965.68,879.04 L966.73,878.95 L967.90,879.00 L968.81,879.13 L969.81,879.33 L970.86,879.60 L971.96,879.92 L973.08,880.27 L974.20,880.64 L975.30,881.01 L976.37,881.37 L977.37,881.70 L978.30,882.00 L979.50,882.38 L980.60,882.73 L980.87,882.82 M991.30,886.31 L991.50,886.37 L992.50,886.70 L993.50,887.03 L994.49,887.37 L995.48,887.70 L996.33,887.99 M1006.90,891.00 L1007.76,891.30 L1008.65,891.64 L1009.58,892.01 L1010.54,892.41 L1011.53,892.82 L1012.55,893.23 L1013.59,893.65 L1014.66,894.05 L1015.76,894.43 L1016.87,894.78 L1018.00,895.10 L1018.93,895.32 L1019.91,895.53 L1020.94,895.72 L1022.01,895.90 L1023.09,896.07 L1024.19,896.23 L1025.29,896.39 L1026.37,896.54 L1027.43,896.69 L1028.46,896.84 L1029.44,897.00 L1030.37,897.16 L1031.22,897.32 L1032.00,897.50 L1033.32,897.87 L1033.87,898.06 M1043.63,902.44 L1044.14,902.64 L1045.10,903.00 L1046.07,903.33 L1047.05,903.63 L1048.03,903.92 L1048.67,904.09 M1059.00,906.90 L1059.81,907.08 L1060.69,907.28 L1061.62,907.49 L1062.61,907.71 L1063.63,907.94 L1064.68,908.16 L1065.76,908.39 L1066.84,908.61 L1067.93,908.82 L1069.01,909.02 L1070.07,909.20 L1071.10,909.36 L1072.10,909.50 L1073.17,909.62 L1074.26,909.73 L1075.35,909.81 L1076.45,909.87 L1077.55,909.92 L1078.62,909.96 L1079.68,910.00 L1080.71,910.03 L1081.71,910.06 L1082.66,910.10 L1083.56,910.14 L1084.40,910.20 L1085.69,910.31 L1086.71,910.41 M1097.83,911.81 L1098.70,911.80 L1099.73,911.70 L1100.76,911.53 L1101.79,911.30 L1102.82,911.04 L1103.05,910.98 M1113.90,908.20 L1114.69,907.85 L1115.52,907.47 L1116.38,907.04 L1117.26,906.58 L1118.16,906.09 L1119.08,905.59 L1120.01,905.07 L1120.94,904.54 L1121.87,904.02 L1122.79,903.50 L1123.70,902.99 L1124.60,902.50 L1125.50,902.00 L1126.40,901.48 L1127.32,900.94 L1128.24,900.39 L1129.17,899.84 L1130.08,899.30 L1130.99,898.77 L1131.88,898.27 L1132.75,897.81 L1133.60,897.38 L1134.42,897.01 L1135.20,896.70 L1136.46,896.31 L1137.63,896.07 L1138.74,895.93 L1138.88,895.93 M1149.76,895.45 L1150.80,895.60 L1151.81,895.87 L1152.79,896.24 L1153.73,896.69 L1154.67,897.18 L1154.71,897.21 M1164.50,902.00 L1165.31,902.38 L1166.19,902.80 L1167.15,903.27 L1168.14,903.76 L1169.17,904.26 L1170.21,904.76 L1171.25,905.24 L1172.26,905.70 L1173.22,906.12 L1174.13,906.48 L1174.96,906.78 L1175.70,907.00 L1177.10,907.15 L1178.15,906.92 L1179.02,906.53 L1179.88,906.22 L1180.90,906.20 L1181.74,906.43 L1182.62,906.79 L1183.52,907.24 L1184.44,907.73 L1185.38,908.24 L1186.33,908.71 L1187.30,909.10 L1188.28,909.42 L1189.29,909.72 L1190.32,909.99 L1190.47,910.03 M1200.66,912.46 L1200.87,912.52 L1201.90,912.80 L1202.90,913.10 L1203.88,913.42 L1204.85,913.75 L1205.71,914.05 M1215.60,917.50 L1216.44,917.78 L1217.33,918.09 L1218.28,918.43 L1219.28,918.79 L1220.31,919.15 L1221.38,919.52 L1222.46,919.88 L1223.57,920.24 L1224.68,920.57 L1225.79,920.88 L1226.90,921.16 L1228.00,921.40 L1229.03,921.59 L1230.10,921.76 L1231.20,921.90 L1232.33,922.03 L1233.47,922.15 L1234.60,922.25 L1235.73,922.34 L1236.84,922.41 L1237.91,922.48 L1238.95,922.54 L1239.93,922.60 L1240.85,922.65 L1241.70,922.70 L1242.92,922.76 M1254.09,922.66 L1255.08,922.67 L1256.10,922.70 L1257.12,922.75 L1258.15,922.82 L1259.18,922.91 L1259.38,922.93 M1270.50,924.00 L1271.28,924.10 L1272.14,924.23 L1273.06,924.38 L1274.04,924.54 L1275.07,924.72 L1276.13,924.90 L1277.21,925.08 L1278.31,925.26 L1279.41,925.43 L1280.50,925.58 L1281.58,925.72 L1282.62,925.84 L1283.64,925.92 L1284.60,925.98 L1285.50,926.00 L1286.67,925.97 L1287.81,925.89 L1288.91,925.76 L1289.98,925.60 L1291.02,925.41 L1292.02,925.19 L1293.00,924.95 L1293.95,924.71 L1294.86,924.47 L1295.74,924.23 L1296.60,924.00 L1297.85,923.64 L1298.08,923.57 M1308.33,919.35 L1309.05,919.04 L1310.03,918.61 L1311.00,918.20 L1311.96,917.80 L1312.91,917.40 L1313.21,917.28 M1323.40,912.90 L1324.28,912.50 L1325.29,912.05 L1326.39,911.55 L1327.51,911.04 L1328.62,910.54 L1329.67,910.06 L1330.62,909.63 L1331.41,909.27 L1332.00,909.00"/>
</g>
<line x1="149.5" y1="41.70" x2="180.5" y2="41.70" stroke="#000" stroke-width="5.5"/>
<line x1="1300.0" y1="41.70" x2="1331.0" y2="41.70" stroke="#000" stroke-width="5.5"/>
<line x1="149.5" y1="291.58" x2="169.5" y2="291.58" stroke="#555" stroke-width="2"/>
<line x1="1311.0" y1="291.58" x2="1331.0" y2="291.58" stroke="#555" stroke-width="2"/>
<line x1="149.5" y1="228.63" x2="169.5" y2="228.63" stroke="#555" stroke-width="2"/>
<line x1="1311.0" y1="228.63" x2="1331.0" y2="228.63" stroke="#555" stroke-width="2"/>
<line x1="149.5" y1="183.96" x2="169.5" y2="183.96" stroke="#555" stroke-width="2"/>
<line x1="1311.0" y1="183.96" x2="1331.0" y2="183.96" stroke="#555" stroke-width="2"/>
<line x1="149.5" y1="149.32" x2="169.5" y2="149.32" stroke="#555" stroke-width="2"/>
<line x1="1311.0" y1="149.32" x2="1331.0" y2="149.32" stroke="#555" stroke-width="2"/>
<line x1="149.5" y1="121.01" x2="169.5" y2="121.01" stroke="#555" stroke-width="2"/>
<line x1="1311.0" y1="121.01" x2="1331.0" y2="121.01" stroke="#555" stroke-width="2"/>
<line x1="149.5" y1="97.08" x2="169.5" y2="97.08" stroke="#555" stroke-width="2"/>
<line x1="1311.0" y1="97.08" x2="1331.0" y2="97.08" stroke="#555" stroke-width="2"/>
<line x1="149.5" y1="76.35" x2="169.5" y2="76.35" stroke="#555" stroke-width="2"/>
<line x1="1311.0" y1="76.35" x2="1331.0" y2="76.35" stroke="#555" stroke-width="2"/>
<line x1="149.5" y1="58.06" x2="169.5" y2="58.06" stroke="#555" stroke-width="2"/>
<line x1="1311.0" y1="58.06" x2="1331.0" y2="58.06" stroke="#555" stroke-width="2"/>
<line x1="149.5" y1="399.20" x2="180.5" y2="399.20" stroke="#000" stroke-width="5.5"/>
<line x1="1300.0" y1="399.20" x2="1331.0" y2="399.20" stroke="#000" stroke-width="5.5"/>
<line x1="149.5" y1="649.08" x2="169.5" y2="649.08" stroke="#555" stroke-width="2"/>
<line x1="1311.0" y1="649.08" x2="1331.0" y2="649.08" stroke="#555" stroke-width="2"/>
<line x1="149.5" y1="586.13" x2="169.5" y2="586.13" stroke="#555" stroke-width="2"/>
<line x1="1311.0" y1="586.13" x2="1331.0" y2="586.13" stroke="#555" stroke-width="2"/>
<line x1="149.5" y1="541.46" x2="169.5" y2="541.46" stroke="#555" stroke-width="2"/>
<line x1="1311.0" y1="541.46" x2="1331.0" y2="541.46" stroke="#555" stroke-width="2"/>
<line x1="149.5" y1="506.82" x2="169.5" y2="506.82" stroke="#555" stroke-width="2"/>
<line x1="1311.0" y1="506.82" x2="1331.0" y2="506.82" stroke="#555" stroke-width="2"/>
<line x1="149.5" y1="478.51" x2="169.5" y2="478.51" stroke="#555" stroke-width="2"/>
<line x1="1311.0" y1="478.51" x2="1331.0" y2="478.51" stroke="#555" stroke-width="2"/>
<line x1="149.5" y1="454.58" x2="169.5" y2="454.58" stroke="#555" stroke-width="2"/>
<line x1="1311.0" y1="454.58" x2="1331.0" y2="454.58" stroke="#555" stroke-width="2"/>
<line x1="149.5" y1="433.85" x2="169.5" y2="433.85" stroke="#555" stroke-width="2"/>
<line x1="1311.0" y1="433.85" x2="1331.0" y2="433.85" stroke="#555" stroke-width="2"/>
<line x1="149.5" y1="415.56" x2="169.5" y2="415.56" stroke="#555" stroke-width="2"/>
<line x1="1311.0" y1="415.56" x2="1331.0" y2="415.56" stroke="#555" stroke-width="2"/>
<line x1="149.5" y1="756.70" x2="180.5" y2="756.70" stroke="#000" stroke-width="5.5"/>
<line x1="1300.0" y1="756.70" x2="1331.0" y2="756.70" stroke="#000" stroke-width="5.5"/>
<line x1="149.5" y1="1006.58" x2="169.5" y2="1006.58" stroke="#555" stroke-width="2"/>
<line x1="1311.0" y1="1006.58" x2="1331.0" y2="1006.58" stroke="#555" stroke-width="2"/>
<line x1="149.5" y1="943.63" x2="169.5" y2="943.63" stroke="#555" stroke-width="2"/>
<line x1="1311.0" y1="943.63" x2="1331.0" y2="943.63" stroke="#555" stroke-width="2"/>
<line x1="149.5" y1="898.96" x2="169.5" y2="898.96" stroke="#555" stroke-width="2"/>
<line x1="1311.0" y1="898.96" x2="1331.0" y2="898.96" stroke="#555" stroke-width="2"/>
<line x1="149.5" y1="864.32" x2="169.5" y2="864.32" stroke="#555" stroke-width="2"/>
<line x1="1311.0" y1="864.32" x2="1331.0" y2="864.32" stroke="#555" stroke-width="2"/>
<line x1="149.5" y1="836.01" x2="169.5" y2="836.01" stroke="#555" stroke-width="2"/>
<line x1="1311.0" y1="836.01" x2="1331.0" y2="836.01" stroke="#555" stroke-width="2"/>
<line x1="149.5" y1="812.08" x2="169.5" y2="812.08" stroke="#555" stroke-width="2"/>
<line x1="1311.0" y1="812.08" x2="1331.0" y2="812.08" stroke="#555" stroke-width="2"/>
<line x1="149.5" y1="791.35" x2="169.5" y2="791.35" stroke="#555" stroke-width="2"/>
<line x1="1311.0" y1="791.35" x2="1331.0" y2="791.35" stroke="#555" stroke-width="2"/>
<line x1="149.5" y1="773.06" x2="169.5" y2="773.06" stroke="#555" stroke-width="2"/>
<line x1="1311.0" y1="773.06" x2="1331.0" y2="773.06" stroke="#555" stroke-width="2"/>
<line x1="149.5" y1="1114.20" x2="180.5" y2="1114.20" stroke="#000" stroke-width="5.5"/>
<line x1="1300.0" y1="1114.20" x2="1331.0" y2="1114.20" stroke="#000" stroke-width="5.5"/>
<line x1="197.88" y1="1117.3" x2="197.88" y2="1097.0" stroke="#555" stroke-width="2"/>
<line x1="197.88" y1="39.2" x2="197.88" y2="58.4" stroke="#555" stroke-width="2"/>
<line x1="244.96" y1="1117.3" x2="244.96" y2="1097.0" stroke="#555" stroke-width="2"/>
<line x1="244.96" y1="39.2" x2="244.96" y2="58.4" stroke="#555" stroke-width="2"/>
<line x1="292.04" y1="1117.3" x2="292.04" y2="1097.0" stroke="#555" stroke-width="2"/>
<line x1="292.04" y1="39.2" x2="292.04" y2="58.4" stroke="#555" stroke-width="2"/>
<line x1="339.12" y1="1117.3" x2="339.12" y2="1097.0" stroke="#555" stroke-width="2"/>
<line x1="339.12" y1="39.2" x2="339.12" y2="58.4" stroke="#555" stroke-width="2"/>
<line x1="386.20" y1="1117.3" x2="386.20" y2="1086.0" stroke="#000" stroke-width="5.5"/>
<line x1="386.20" y1="39.2" x2="386.20" y2="69.4" stroke="#000" stroke-width="5.5"/>
<line x1="433.28" y1="1117.3" x2="433.28" y2="1097.0" stroke="#555" stroke-width="2"/>
<line x1="433.28" y1="39.2" x2="433.28" y2="58.4" stroke="#555" stroke-width="2"/>
<line x1="480.36" y1="1117.3" x2="480.36" y2="1097.0" stroke="#555" stroke-width="2"/>
<line x1="480.36" y1="39.2" x2="480.36" y2="58.4" stroke="#555" stroke-width="2"/>
<line x1="527.44" y1="1117.3" x2="527.44" y2="1097.0" stroke="#555" stroke-width="2"/>
<line x1="527.44" y1="39.2" x2="527.44" y2="58.4" stroke="#555" stroke-width="2"/>
<line x1="574.52" y1="1117.3" x2="574.52" y2="1097.0" stroke="#555" stroke-width="2"/>
<line x1="574.52" y1="39.2" x2="574.52" y2="58.4" stroke="#555" stroke-width="2"/>
<line x1="621.60" y1="1117.3" x2="621.60" y2="1086.0" stroke="#000" stroke-width="5.5"/>
<line x1="621.60" y1="39.2" x2="621.60" y2="69.4" stroke="#000" stroke-width="5.5"/>
<line x1="668.68" y1="1117.3" x2="668.68" y2="1097.0" stroke="#555" stroke-width="2"/>
<line x1="668.68" y1="39.2" x2="668.68" y2="58.4" stroke="#555" stroke-width="2"/>
<line x1="715.76" y1="1117.3" x2="715.76" y2="1097.0" stroke="#555" stroke-width="2"/>
<line x1="715.76" y1="39.2" x2="715.76" y2="58.4" stroke="#555" stroke-width="2"/>
<line x1="762.84" y1="1117.3" x2="762.84" y2="1097.0" stroke="#555" stroke-width="2"/>
<line x1="762.84" y1="39.2" x2="762.84" y2="58.4" stroke="#555" stroke-width="2"/>
<line x1="809.92" y1="1117.3" x2="809.92" y2="1097.0" stroke="#555" stroke-width="2"/>
<line x1="809.92" y1="39.2" x2="809.92" y2="58.4" stroke="#555" stroke-width="2"/>
<line x1="857.00" y1="1117.3" x2="857.00" y2="1086.0" stroke="#000" stroke-width="5.5"/>
<line x1="857.00" y1="39.2" x2="857.00" y2="69.4" stroke="#000" stroke-width="5.5"/>
<line x1="904.08" y1="1117.3" x2="904.08" y2="1097.0" stroke="#555" stroke-width="2"/>
<line x1="904.08" y1="39.2" x2="904.08" y2="58.4" stroke="#555" stroke-width="2"/>
<line x1="951.16" y1="1117.3" x2="951.16" y2="1097.0" stroke="#555" stroke-width="2"/>
<line x1="951.16" y1="39.2" x2="951.16" y2="58.4" stroke="#555" stroke-width="2"/>
<line x1="998.24" y1="1117.3" x2="998.24" y2="1097.0" stroke="#555" stroke-width="2"/>
<line x1="998.24" y1="39.2" x2="998.24" y2="58.4" stroke="#555" stroke-width="2"/>
<line x1="1045.32" y1="1117.3" x2="1045.32" y2="1097.0" stroke="#555" stroke-width="2"/>
<line x1="1045.32" y1="39.2" x2="1045.32" y2="58.4" stroke="#555" stroke-width="2"/>
<line x1="1092.40" y1="1117.3" x2="1092.40" y2="1086.0" stroke="#000" stroke-width="5.5"/>
<line x1="1092.40" y1="39.2" x2="1092.40" y2="69.4" stroke="#000" stroke-width="5.5"/>
<line x1="1139.48" y1="1117.3" x2="1139.48" y2="1097.0" stroke="#555" stroke-width="2"/>
<line x1="1139.48" y1="39.2" x2="1139.48" y2="58.4" stroke="#555" stroke-width="2"/>
<line x1="1186.56" y1="1117.3" x2="1186.56" y2="1097.0" stroke="#555" stroke-width="2"/>
<line x1="1186.56" y1="39.2" x2="1186.56" y2="58.4" stroke="#555" stroke-width="2"/>
<line x1="1233.64" y1="1117.3" x2="1233.64" y2="1097.0" stroke="#555" stroke-width="2"/>
<line x1="1233.64" y1="39.2" x2="1233.64" y2="58.4" stroke="#555" stroke-width="2"/>
<line x1="1280.72" y1="1117.3" x2="1280.72" y2="1097.0" stroke="#555" stroke-width="2"/>
<line x1="1280.72" y1="39.2" x2="1280.72" y2="58.4" stroke="#555" stroke-width="2"/>
<rect x="149.5" y="39.2" width="6.0" height="1078.1" fill="#000"/>
<rect x="1325.0" y="39.2" width="6.0" height="1078.1" fill="#000"/>
<rect x="149.5" y="39.2" width="1181.5" height="5.199999999999996" fill="#000"/>
<rect x="149.5" y="1111.0" width="1181.5" height="6.2999999999999545" fill="#000"/>
<g fill="#000" stroke="#fff" stroke-width="0.5"><path vector-effect="non-scaling-stroke" d="M252,0 L345,0 L345,709 L275,709 C262,650 230,598 90,580 L90,512 L252,512 Z" transform="translate(76.68,56.50) scale(0.04200,-0.04284)"/><text transform="translate(100.56,56.50) scale(0.955,1.035)" font-size="42">0</text><path vector-effect="non-scaling-stroke" d="M252,0 L345,0 L345,709 L275,709 C262,650 230,598 90,580 L90,512 L252,512 Z" transform="translate(122.59,36.00) scale(0.02700,-0.02754)"/><path vector-effect="non-scaling-stroke" d="M252,0 L345,0 L345,709 L275,709 C262,650 230,598 90,580 L90,512 L252,512 Z" transform="translate(76.68,414.00) scale(0.04200,-0.04284)"/><text transform="translate(100.56,414.00) scale(0.955,1.035)" font-size="42">0</text><text transform="translate(122.93,393.50) scale(0.955,1.035)" font-size="27">0</text><path vector-effect="non-scaling-stroke" d="M252,0 L345,0 L345,709 L275,709 C262,650 230,598 90,580 L90,512 L252,512 Z" transform="translate(67.69,771.50) scale(0.04200,-0.04284)"/><text transform="translate(91.57,771.50) scale(0.955,1.035)" font-size="42">0</text><text transform="translate(113.60,751.00) scale(1.0,1.035)" font-size="27">-</text><path vector-effect="non-scaling-stroke" d="M252,0 L345,0 L345,709 L275,709 C262,650 230,598 90,580 L90,512 L252,512 Z" transform="translate(122.59,751.00) scale(0.02700,-0.02754)"/><path vector-effect="non-scaling-stroke" d="M252,0 L345,0 L345,709 L275,709 C262,650 230,598 90,580 L90,512 L252,512 Z" transform="translate(67.69,1129.00) scale(0.04200,-0.04284)"/><text transform="translate(91.57,1129.00) scale(0.955,1.035)" font-size="42">0</text><text transform="translate(113.60,1108.50) scale(1.0,1.035)" font-size="27">-</text><text transform="translate(122.59,1108.50) scale(1.0,1.035)" font-size="27">2</text><text transform="translate(345.86,1156.80) scale(0.955,1.035)" font-size="42">0</text><text transform="translate(368.69,1156.80) scale(1.0,1.035)" font-size="42">.</text><text transform="translate(380.89,1156.80) scale(0.955,1.035)" font-size="42">0</text><text transform="translate(404.06,1156.80) scale(0.97,1.035)" font-size="42">5</text><text transform="translate(592.94,1156.80) scale(0.955,1.035)" font-size="42">0</text><text transform="translate(615.76,1156.80) scale(1.0,1.035)" font-size="42">.</text><path vector-effect="non-scaling-stroke" d="M252,0 L345,0 L345,709 L275,709 C262,650 230,598 90,580 L90,512 L252,512 Z" transform="translate(627.44,1156.80) scale(0.04200,-0.04284)"/><text transform="translate(816.66,1156.80) scale(0.955,1.035)" font-size="42">0</text><text transform="translate(839.49,1156.80) scale(1.0,1.035)" font-size="42">.</text><path vector-effect="non-scaling-stroke" d="M252,0 L345,0 L345,709 L275,709 C262,650 230,598 90,580 L90,512 L252,512 Z" transform="translate(851.16,1156.80) scale(0.04200,-0.04284)"/><text transform="translate(874.86,1156.80) scale(0.97,1.035)" font-size="42">5</text><text transform="translate(1063.74,1156.80) scale(0.955,1.035)" font-size="42">0</text><text transform="translate(1086.56,1156.80) scale(1.0,1.035)" font-size="42">.</text><text transform="translate(1098.24,1156.80) scale(1.0,1.035)" font-size="42">2</text><text transform="translate(1287.46,1156.80) scale(0.955,1.035)" font-size="42">0</text><text transform="translate(1310.29,1156.80) scale(1.0,1.035)" font-size="42">.</text><text transform="translate(1321.96,1156.80) scale(1.0,1.035)" font-size="42">2</text><text transform="translate(1345.66,1156.80) scale(0.97,1.035)" font-size="42">5</text></g>
<text transform="translate(739.3,1204.5) scale(1,1.025)" font-size="50" font-weight="bold" text-anchor="middle">Time</text>
<text transform="translate(59.0,576.5) rotate(-90) scale(1,1.025)" font-size="50" font-weight="bold" text-anchor="middle">Residual</text>
<line x1="864.4" y1="224.8" x2="1052.8" y2="224.8" stroke="#000" stroke-width="5.6"/>
<text transform="translate(1084.5,237.5) scale(1,1.045)" font-size="41" font-weight="bold">Density</text>
<line x1="864.4" y1="274.6" x2="1052.8" y2="274.6" stroke="#000" stroke-width="5.6" stroke-dasharray="28.4 11 5.3 11.3"/>
<text transform="translate(1084.5,287.3) scale(1,1.045)" font-size="41" font-weight="bold">Velocity</text>
<line x1="864.4" y1="324.9" x2="1052.8" y2="324.9" stroke="#000" stroke-width="5.6" stroke-dasharray="42.2 13.8"/>
<text transform="translate(1084.5,337.5) scale(1,1.045)" font-size="41" font-weight="bold">Energy</text>
</svg></body></html>
